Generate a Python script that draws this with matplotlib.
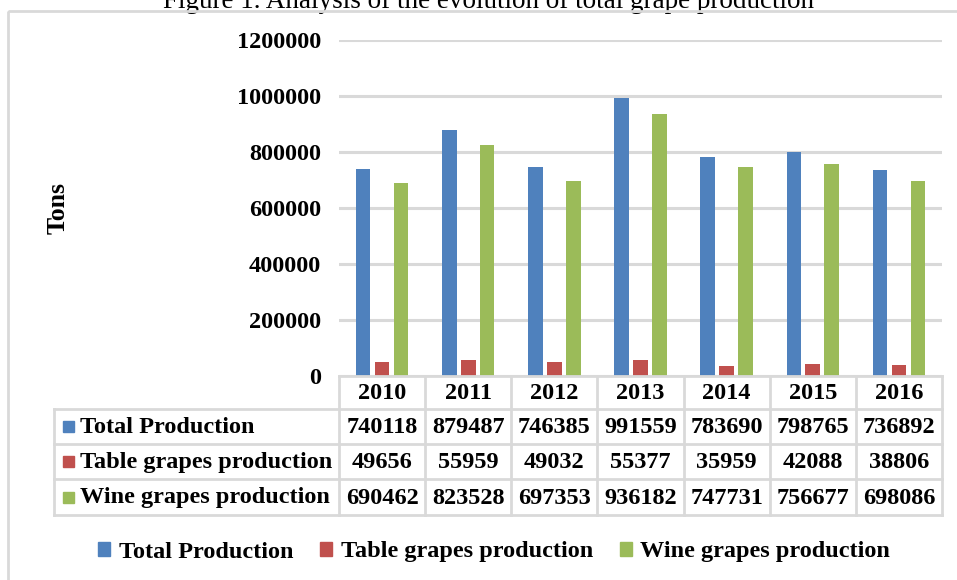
import matplotlib
matplotlib.use("Agg")
import matplotlib.pyplot as plt
import numpy as np
from matplotlib.patches import Rectangle

years = ["2010", "2011", "2012", "2013", "2014", "2015", "2016"]
series_names = ["Total Production", "Table grapes production", "Wine grapes production"]
total_production = [740118, 879487, 746385, 991559, 783690, 798765, 736892]
table_grapes = [49656, 55959, 49032, 55377, 35959, 42088, 38806]
wine_grapes = [690462, 823528, 697353, 936182, 747731, 756677, 698086]
y_ticks = [0, 200000, 400000, 600000, 800000, 1000000, 1200000]
colors = ["#4F81BD", "#C0504D", "#9BBB59"]

plt.rcParams['font.family'] = ['Liberation Serif', 'DejaVu Serif']
FS = 17.5

W, H = 957, 580
fig = plt.figure(figsize=(W / 100, H / 100), dpi=100)

def fx(px):
    return px / W

def fy(py):
    return 1 - py / H

# plot axes
x_left, x_right, y_top, y_zero = 339, 942, 40, 376
ax = fig.add_axes([fx(x_left), fy(y_zero), fx(x_right - x_left), (y_zero - y_top) / H])
series = [total_production, table_grapes, wine_grapes]
x = np.arange(len(years))
offs = [-0.22, 0.0, 0.22]
for s, vals, c, o in zip(series_names, series, colors, offs):
    ax.bar(x + o, vals, width=0.17, color=c, label=s, zorder=3)
ax.set_xlim(-0.5, len(years) - 0.5)
ax.set_ylim(0, 1200000)
ax.set_yticks(y_ticks)
ax.set_yticklabels([str(v) for v in y_ticks], fontsize=FS, fontweight='bold')
ax.tick_params(axis='y', length=0, pad=13)
ax.set_xticks([])
for sp in ax.spines.values():
    sp.set_visible(False)
ax.yaxis.grid(True, color="#D9D9D9", linewidth=2.2, zorder=0)
ax.set_axisbelow(True)

# overlay axes for frame, table, labels
ov = fig.add_axes([0, 0, 1, 1], zorder=5)
ov.set_xlim(0, W)
ov.set_ylim(H, 0)
ov.axis('off')
ov.patch.set_alpha(0)

# outer frame
ov.add_patch(Rectangle((8, 11), W + 20, H + 20, fill=False, edgecolor="#D9D9D9", linewidth=2))

# title (cut off at top as in the source image)
fig.text(fx(488), fy(8), "Figure 1. Analysis of the evolution of total grape production",
         ha='center', va='baseline', fontsize=19.5, color='black')

# y label
ov.text(58, 208, "Tons", rotation=90, ha='center', va='center', fontsize=FS + 1, fontweight='bold')

# table
gc = "#D9D9D9"
lw = 2
ncol = len(years)
colw = (x_right - x_left) / ncol
row_y = [376, 409, 444, 479, 515]
label_left = 54
ov.plot([x_left, x_right], [row_y[0], row_y[0]], color=gc, lw=lw)
for ry in row_y[1:]:
    ov.plot([label_left, x_right], [ry, ry], color=gc, lw=lw)
ov.plot([label_left, label_left], [row_y[1], row_y[-1]], color=gc, lw=lw)
for i in range(ncol + 1):
    xx = x_left + i * colw
    ov.plot([xx, xx], [row_y[0], row_y[-1]], color=gc, lw=lw)
for i, yr in enumerate(years):
    ov.text(x_left + (i + 0.5) * colw, (row_y[0] + row_y[1]) / 2 + 1, yr,
            ha='center', va='center', fontsize=FS, fontweight='bold')
for r, (name, vals, c) in enumerate(zip(series_names, series, colors)):
    cy = (row_y[r + 1] + row_y[r + 2]) / 2
    ov.add_patch(Rectangle((63, cy - 5.5), 11, 11, color=c))
    ov.text(80, cy + 1, name, ha='left', va='center', fontsize=FS, fontweight='bold')
    for i, v in enumerate(vals):
        ov.text(x_left + (i + 0.5) * colw, cy + 1, str(v), ha='center', va='center',
                fontsize=FS, fontweight='bold')

# legend
fig.legend(handles=[Rectangle((0, 0), 1, 1, color=c) for c in colors], labels=series_names,
           loc='center', bbox_to_anchor=(fx(494), fy(552)), ncol=3, frameon=False,
           prop={'size': FS, 'weight': 'bold'}, handlelength=0.5, handleheight=0.5,
           handletextpad=0.35, columnspacing=1.1)

fig.savefig("out.png", dpi=100)
